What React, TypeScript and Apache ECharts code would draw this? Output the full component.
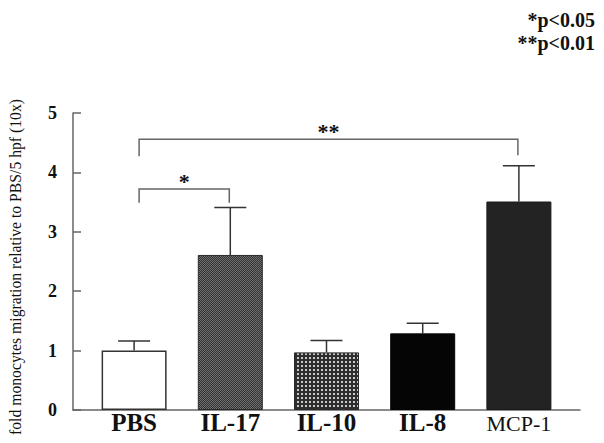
import React, { useEffect, useRef } from "react";
import * as echarts from "echarts";

const categories = ["PBS", "IL-17", "IL-10", "IL-8", "MCP-1"];
const meanValues = [1.0, 2.61, 0.97, 1.29, 3.51];
const errorTops = [1.16, 3.41, 1.17, 1.46, 4.11];
const yTicks = [0, 1, 2, 3, 4, 5];
// [fromIndex, toIndex, bracketTop, leftLegBottom, rightLegBottom, label]
const brackets: [number, number, number, number, number, string][] = [
  [0, 1, 3.72, 3.49, 3.49, "*"],
  [0, 4, 4.56, 4.27, 4.29, "**"],
];
const yTitle = "fold monocytes migration relative to PBS/5 hpf (10x)";
const legendLines = ["*p<0.05", "**p<0.01"];

function makePattern(kind: string): any {
  const c = document.createElement("canvas");
  if (kind === "checker") {
    c.width = 2;
    c.height = 2;
    const ctx = c.getContext("2d")!;
    ctx.fillStyle = "#333333";
    ctx.fillRect(0, 0, 2, 2);
    ctx.fillStyle = "#707070";
    ctx.fillRect(0, 0, 1, 1);
    ctx.fillRect(1, 1, 1, 1);
  } else {
    c.width = 4;
    c.height = 4;
    const ctx = c.getContext("2d")!;
    ctx.fillStyle = "#2e2e2e";
    ctx.fillRect(0, 0, 4, 4);
    ctx.fillStyle = "#c8c8c8";
    ctx.fillRect(1, 1, 2, 2);
  }
  return { image: c, repeat: "repeat" };
}

export default function App() {
  const ref = useRef<HTMLDivElement>(null);
  useEffect(() => {
    if (!ref.current) return;
    const chart = echarts.init(ref.current, undefined, { renderer: "svg" });
    const barStyles: any[] = [
      { color: "#ffffff", borderColor: "#333", borderWidth: 1.5 },
      { color: makePattern("checker"), borderColor: "#2a2a2a", borderWidth: 1 },
      { color: makePattern("dots"), borderColor: "#2a2a2a", borderWidth: 1 },
      { color: "#050505", borderColor: "#050505", borderWidth: 1 },
      { color: "#232323", borderColor: "#1a1a1a", borderWidth: 1 },
    ];
    const serif = "Liberation Serif";
    const option: any = {
      animation: false,
      backgroundColor: "#ffffff",
      grid: [
        { left: 73, right: 24, top: 113, bottom: 33 },
        { left: 86, right: 37, top: 113, bottom: 33 },
      ],
      xAxis: [
        {
          type: "value",
          gridIndex: 0,
          min: 0,
          max: 1,
          axisLine: { show: true, onZero: false, lineStyle: { color: "#666", width: 1.5 } },
          axisTick: { show: false },
          axisLabel: { show: false },
          splitLine: { show: false },
        },
        {
          type: "category",
          gridIndex: 1,
          data: categories,
          axisLine: { show: false },
          axisTick: { show: false },
          axisLabel: {
            margin: -1,
            interval: 0,
            formatter: (v: string) => (v === "MCP-1" ? `{m|${v}}` : `{b|${v}}`),
            rich: {
              b: { fontFamily: serif, fontSize: 25, fontWeight: "bold", color: "#111", lineHeight: 26 },
              m: { fontFamily: serif, fontSize: 22, color: "#111", lineHeight: 26, padding: [2, 0, 0, 0] },
            },
          },
        },
      ],
      yAxis: [
        {
          type: "value",
          gridIndex: 0,
          min: yTicks[0],
          max: yTicks[yTicks.length - 1],
          interval: 1,
          axisLine: { show: true, lineStyle: { color: "#666", width: 1.5 } },
          axisTick: { show: true, inside: true, length: 8, lineStyle: { color: "#666", width: 1.5 } },
          axisLabel: {
            margin: 16,
            fontFamily: serif,
            fontSize: 18,
            fontWeight: "bold",
            color: "#111",
          },
          splitLine: { show: false },
        },
        {
          type: "value",
          gridIndex: 1,
          min: yTicks[0],
          max: yTicks[yTicks.length - 1],
          show: false,
          splitLine: { show: false },
        },
      ],
      series: [
        {
          type: "bar",
          xAxisIndex: 1,
          yAxisIndex: 1,
          barWidth: 65,
          data: meanValues.map((v, i) => ({ value: v, itemStyle: barStyles[i] })),
          z: 2,
        },
        {
          type: "custom",
          xAxisIndex: 1,
          yAxisIndex: 1,
          data: meanValues.map((v, i) => [i, v, errorTops[i]]),
          renderItem: (params: any, api: any) => {
            const idx = api.value(0);
            const p0 = api.coord([idx, api.value(1)]);
            const p1 = api.coord([idx, api.value(2)]);
            const style = { stroke: "#333", lineWidth: 1.5 };
            return {
              type: "group",
              children: [
                { type: "line", shape: { x1: p0[0], y1: p0[1], x2: p1[0], y2: p1[1] }, style },
                { type: "line", shape: { x1: p1[0] - 16, y1: p1[1], x2: p1[0] + 16, y2: p1[1] }, style },
              ],
            };
          },
          z: 3,
        },
        {
          type: "custom",
          xAxisIndex: 1,
          yAxisIndex: 1,
          data: brackets.map((b) => [b[0], b[1], b[2], b[3], b[4]]),
          renderItem: (params: any, api: any) => {
            const b = brackets[params.dataIndex];
            const tl = api.coord([api.value(0), api.value(2)]);
            const tr = api.coord([api.value(1), api.value(2)]);
            const bl = api.coord([api.value(0), api.value(3)]);
            const br = api.coord([api.value(1), api.value(4)]);
            const xl = tl[0] + 5;
            const xr = tr[0] - 1;
            const style = { stroke: "#666", lineWidth: 1.5, fill: "none" };
            return {
              type: "group",
              children: [
                {
                  type: "polyline",
                  shape: { points: [[xl, bl[1]], [xl, tl[1]], [xr, tr[1]], [xr, br[1]]] },
                  style,
                },
                {
                  type: "text",
                  x: (xl + xr) / 2,
                  y: tl[1] + 3,
                  style: {
                    text: b[5],
                    align: "center",
                    verticalAlign: "bottom",
                    fontFamily: serif,
                    fontSize: 22,
                    fontWeight: "bold",
                    fill: "#111",
                  },
                },
              ],
            };
          },
          z: 3,
        },
      ],
      graphic: [
        {
          type: "text",
          x: 15,
          y: 267,
          rotation: Math.PI / 2,
          style: {
            text: yTitle,
            align: "center",
            verticalAlign: "middle",
            fontFamily: serif,
            fontSize: 15.7,
            fill: "#111",
          },
        },
        {
          type: "text",
          x: 595,
          y: 8,
          style: {
            text: legendLines.join("\n"),
            align: "right",
            verticalAlign: "top",
            fontFamily: serif,
            fontSize: 20,
            fontWeight: "bold",
            lineHeight: 23,
            fill: "#111",
          },
        },
      ],
    };
    chart.setOption(option);
    return () => chart.dispose();
  }, []);
  return (
    <div
      ref={ref}
      style={{ position: "fixed", left: 0, top: 0, width: 604, height: 443, background: "#fff" }}
    />
  );
}
